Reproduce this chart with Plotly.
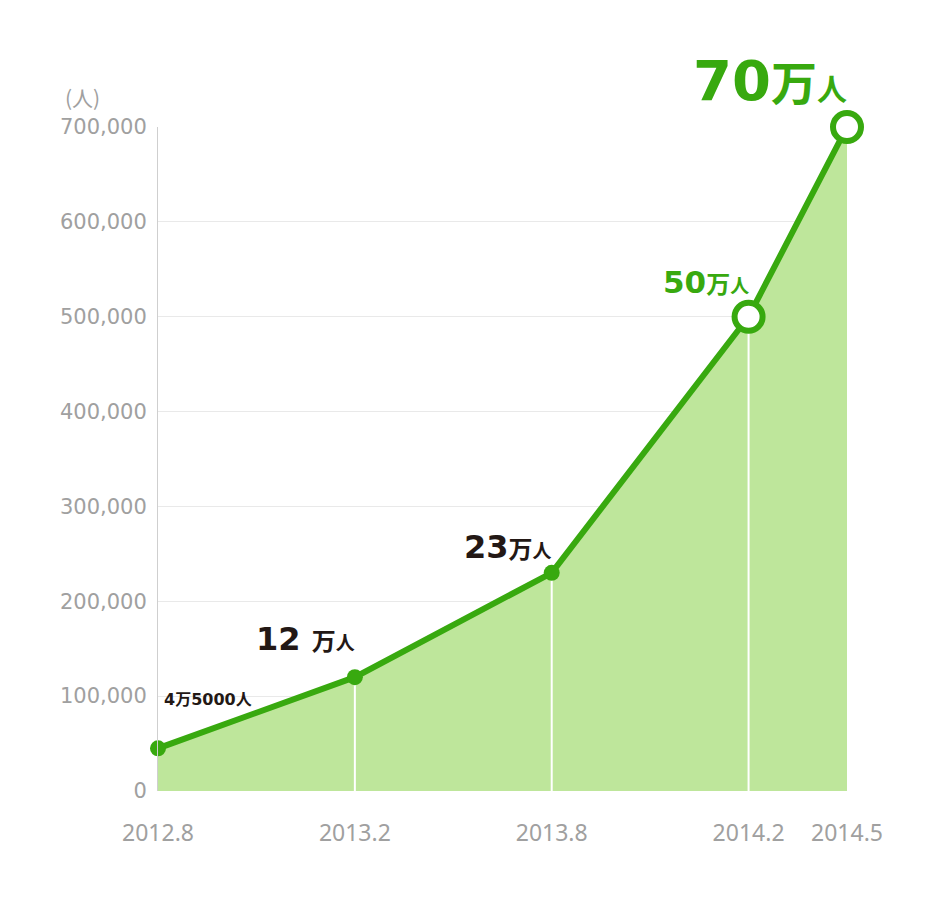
import plotly.graph_objects as go

# Data
periods = ["2012.8", "2013.2", "2013.8", "2014.2", "2014.5"]
month_index = [0, 6, 12, 18, 21]          # months since 2012.8
users = [45000, 120000, 230000, 500000, 700000]
y_ticks = [0, 100000, 200000, 300000, 400000, 500000, 600000, 700000]
y_ticktext = ["0", "100,000", "200,000", "300,000", "400,000", "500,000", "600,000", "700,000"]

GREEN = "#38a90f"
FILL = "#bee69b"
DARK = "#231815"
GRAY = "#a0a0a0"

fig = go.Figure()

# filled area
fig.add_trace(go.Scatter(x=month_index, y=users, mode="lines", line=dict(width=0, color=FILL),
                         fill="tozeroy", fillcolor=FILL, hoverinfo="skip", showlegend=False))

# white vertical drop lines for inner points
vx, vy = [], []
for m, v in zip(month_index[1:-1], users[1:-1]):
    vx += [m, m, None]
    vy += [0, v, None]
fig.add_trace(go.Scatter(x=vx, y=vy, mode="lines", line=dict(color="white", width=2),
                         hoverinfo="skip", showlegend=False))

# main line with markers
fig.add_trace(go.Scatter(
    x=month_index, y=users, mode="lines+markers", cliponaxis=False,
    line=dict(color=GREEN, width=6),
    marker=dict(size=[16, 16, 16, 28, 28], opacity=1,
                color=[GREEN, GREEN, GREEN, "white", "white"],
                line=dict(color=GREEN, width=[0, 0, 0, 6, 6])),
    showlegend=False))


def cjk(ch, size):
    return f"<span style=\"font-family:Noto Sans CJK JP;font-size:{size}px\">{ch}</span>"


labels = [
    dict(i=0, text="<b>4" + cjk("万", 16) + "5000" + cjk("人", 16) + "</b>",
         size=16, color=DARK, xshift=4, yshift=50, xanchor="left"),
    dict(i=1, text="<b>12 " + cjk("万", 24) + cjk("人", 19) + "</b>",
         size=32, color=DARK, xshift=2, yshift=38, xanchor="right"),
    dict(i=2, text="<b>23" + cjk("万", 24) + cjk("人", 19) + "</b>",
         size=32, color=DARK, xshift=2, yshift=26, xanchor="right"),
    dict(i=3, text="<b>50" + cjk("万", 24) + cjk("人", 19) + "</b>",
         size=31, color=GREEN, xshift=2, yshift=35, xanchor="right"),
    dict(i=4, text="<b>70" + cjk("万", 46) + cjk("人", 30) + "</b>",
         size=56, color=GREEN, xshift=2, yshift=47, xanchor="right"),
]
for lb in labels:
    fig.add_annotation(x=month_index[lb["i"]], y=users[lb["i"]], xref="x", yref="y",
                       text=lb["text"], showarrow=False, xanchor=lb["xanchor"], yanchor="middle",
                       xshift=lb["xshift"], yshift=lb["yshift"],
                       font=dict(family="DejaVu Sans", size=lb["size"], color=lb["color"]))

fig.add_annotation(x=0, y=1, xref="paper", yref="paper", text="(人)", showarrow=False,
                   xanchor="right", yanchor="bottom", xshift=-56, yshift=13,
                   font=dict(family="Noto Sans CJK JP", size=21, color=GRAY))

fig.update_layout(
    width=940, height=903,
    margin=dict(l=150, r=101, t=119, b=120),
    paper_bgcolor="white", plot_bgcolor="white",
    xaxis=dict(range=[0, 21], tickvals=month_index, ticktext=periods, showgrid=False,
               zeroline=False, showline=False, ticks="", ticklabelstandoff=26,
               tickfont=dict(family="Noto Sans", size=23, color=GRAY)),
    yaxis=dict(range=[0, 700000], tickvals=y_ticks, ticktext=y_ticktext, showgrid=True,
               gridcolor="#e9e9e9", gridwidth=1, zeroline=False, showline=True,
               linecolor="#cfcfcf", linewidth=1, ticks="", ticklabelstandoff=6,
               tickfont=dict(family="DejaVu Sans", size=21, color=GRAY)),
)

fig.write_html("out.html")
